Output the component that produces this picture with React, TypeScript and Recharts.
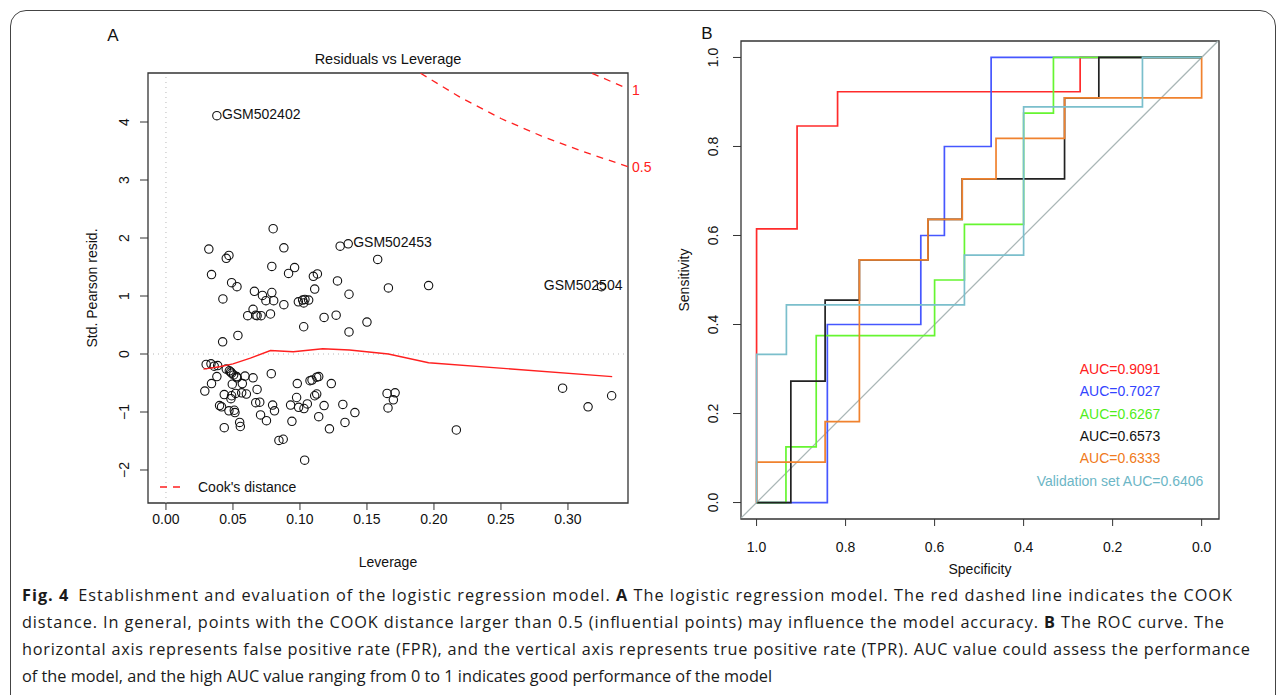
import React from "react";
import {
  ScatterChart,
  Scatter,
  XAxis,
  YAxis,
  ReferenceLine,
  ReferenceArea
} from "recharts";

// ---- Panel A: residuals vs leverage ----
const leverage = [
  0.080, 0.032, 0.088, 0.045, 0.047, 0.079, 0.096, 0.0915, 0.034, 0.110,
  0.113, 0.049, 0.053, 0.128, 0.111, 0.0425, 0.066, 0.072, 0.0746, 0.079,
  0.0804, 0.088, 0.0988, 0.102, 0.1037, 0.1065, 0.1028, 0.065, 0.061, 0.067,
  0.068, 0.071, 0.078, 0.118, 0.127, 0.1028, 0.0537, 0.0423, 0.130, 0.1366,
  0.1366, 0.158, 0.166, 0.196, 0.150,
  0.030, 0.0336, 0.036, 0.0386, 0.045, 0.0473, 0.0483, 0.049, 0.0505, 0.0528,
  0.053, 0.059, 0.065, 0.0786, 0.029, 0.034, 0.038, 0.0495, 0.057, 0.068,
  0.0435, 0.049, 0.052, 0.0565, 0.060, 0.0485, 0.067, 0.070, 0.040, 0.0415,
  0.047, 0.051, 0.0515, 0.055, 0.0555, 0.0435, 0.0706, 0.075, 0.0796, 0.081,
  0.0843, 0.0875, 0.093, 0.094, 0.098, 0.0975, 0.099, 0.103, 0.1055, 0.1035,
  0.1075, 0.109, 0.1125, 0.114, 0.111, 0.1125, 0.114, 0.118, 0.1234, 0.132,
  0.141, 0.1336, 0.122, 0.165, 0.171, 0.1697, 0.1657, 0.2167, 0.296, 0.315,
  0.3326
];
const stdResid = [
  2.16, 1.81, 1.83, 1.65, 1.70, 1.51, 1.49, 1.39, 1.37, 1.34,
  1.38, 1.23, 1.16, 1.26, 1.12, 0.95, 1.08, 1.01, 0.92, 1.06,
  0.92, 0.85, 0.90, 0.93, 0.94, 0.93, 0.88, 0.77, 0.66, 0.67,
  0.66, 0.66, 0.69, 0.63, 0.67, 0.47, 0.32, 0.21, 1.86, 1.03,
  0.38, 1.63, 1.14, 1.18, 0.55,
  -0.18, -0.17, -0.21, -0.20, -0.26, -0.29, -0.31, -0.33, -0.36, -0.39,
  -0.41, -0.38, -0.41, -0.34, -0.64, -0.51, -0.39, -0.52, -0.51, -0.61,
  -0.70, -0.72, -0.68, -0.67, -0.69, -0.77, -0.84, -0.83, -0.89, -0.91,
  -0.98, -0.97, -1.01, -1.18, -1.25, -1.27, -1.05, -1.15, -0.88, -0.98,
  -1.49, -1.47, -0.88, -1.16, -0.51, -0.75, -0.92, -0.94, -0.86, -1.83,
  -0.46, -0.45, -0.40, -0.39, -0.72, -0.69, -1.08, -0.89, -0.51, -0.87,
  -1.01, -1.18, -1.29, -0.68, -0.67, -0.79, -0.93, -1.31, -0.59, -0.91,
  -0.72
];
const idNames = ["GSM502402", "GSM502453", "GSM502504"];
const idLeverage = [0.038, 0.136, 0.325];
const idResid = [4.11, 1.90, 1.16];

const smoothLev = [0.028, 0.04, 0.05, 0.063, 0.078, 0.095, 0.117, 0.137, 0.166, 0.196, 0.333];
const smoothRes = [-0.26, -0.22, -0.17, -0.07, 0.06, 0.04, 0.09, 0.07, 0.0, -0.15, -0.39];

const cookHalfLev = [0.19, 0.22, 0.25, 0.28, 0.31, 0.3448];
const cookHalfRes = [4.84, 4.42, 4.06, 3.76, 3.50, 3.23];
const cookOneLev = [0.318, 0.332, 0.3448];
const cookOneRes = [4.84, 4.70, 4.57];

const levTicks = [0, 0.05, 0.1, 0.15, 0.2, 0.25, 0.3];
const residTicks = [-2, -1, 0, 1, 2, 3, 4];

// ---- Panel B: ROC curves (specificity, sensitivity) ----
const redSpec = [1, 1, 0.909, 0.909, 0.818, 0.818, 0.273, 0.273, 0];
const redSens = [0, 0.615, 0.615, 0.846, 0.846, 0.923, 0.923, 1, 1];
const blueSpec = [1, 0.841, 0.841, 0.631, 0.631, 0.578, 0.578, 0.473, 0.473, 0];
const blueSens = [0, 0, 0.4, 0.4, 0.6, 0.6, 0.8, 0.8, 1, 1];
const greenSpec = [1, 0.934, 0.934, 0.866, 0.866, 0.6, 0.6, 0.533, 0.533, 0.4, 0.4, 0.333, 0.333, 0];
const greenSens = [0, 0, 0.125, 0.125, 0.375, 0.375, 0.5, 0.5, 0.625, 0.625, 0.875, 0.875, 1, 1];
const blackSpec = [1, 0.923, 0.923, 0.846, 0.846, 0.769, 0.769, 0.615, 0.615, 0.538, 0.538, 0.308, 0.308, 0.231, 0.231, 0];
const blackSens = [0, 0, 0.273, 0.273, 0.455, 0.455, 0.545, 0.545, 0.636, 0.636, 0.727, 0.727, 0.909, 0.909, 1, 1];
const orangeSpec = [1, 1, 0.846, 0.846, 0.769, 0.769, 0.615, 0.615, 0.538, 0.538, 0.462, 0.462, 0.308, 0.308, 0, 0];
const orangeSens = [0, 0.091, 0.091, 0.182, 0.182, 0.545, 0.545, 0.636, 0.636, 0.727, 0.727, 0.818, 0.818, 0.909, 0.909, 1];
const cyanSpec = [1, 1, 0.933, 0.933, 0.533, 0.533, 0.4, 0.4, 0.133, 0.133, 0];
const cyanSens = [0, 0.333, 0.333, 0.444, 0.444, 0.556, 0.556, 0.889, 0.889, 1, 1];

const aucLabels = ["AUC=0.9091", "AUC=0.7027", "AUC=0.6267", "AUC=0.6573", "AUC=0.6333", "Validation set AUC=0.6406"];
const rocTicks = [1, 0.8, 0.6, 0.4, 0.2, 0];

const RED = "#ff2b2b";
const BLUE = "#4657ff";
const GREEN = "#66f531";
const BLACK = "#222222";
const ORANGE = "#f0822e";
const CYAN = "#7bbfcc";
const aucColors = ["#ff2020", "#3344ff", "#50ee1a", "#111111", "#f07a20", "#6cb6c6"];

const FONT = "'Liberation Sans', Arial, Helvetica, sans-serif";
const CAPTION_FONT = "'Open Sans', 'Noto Sans', sans-serif";

const zip = (xs: number[], ys: number[]) => xs.map((x, i) => ({ x, y: ys[i] }));

const pointsA = zip(leverage, stdResid);
const idPoints = idNames.map((name, i) => ({ x: idLeverage[i], y: idResid[i], name }));

const fmt = (v: number, d: number) => (v < 0 ? "\u2212" : "") + Math.abs(v).toFixed(d);

const txt = { fontFamily: FONT, fontSize: 14, fill: "#111" } as const;

const Circle = (p: any) => (
  <circle cx={p.cx} cy={p.cy} r={4.2} fill="none" stroke="#111" strokeWidth={1.1} />
);

const IdPoint = (p: any) => {
  const right = p.payload.x > 0.3;
  return (
    <g>
      <circle cx={p.cx} cy={p.cy} r={4.2} fill="none" stroke="#111" strokeWidth={1.1} />
      <text
        x={right ? p.cx + 21 : p.cx + 5}
        y={p.cy - 2}
        textAnchor={right ? "end" : "start"}
        dominantBaseline="central"
        style={txt}
      >
        {p.payload.name}
      </text>
    </g>
  );
};

const Nothing = () => <g />;

function PanelA() {
  const xDom: [number, number] = [-0.0134, 0.3448];
  const yDom: [number, number] = [-2.569, 4.845];
  return (
    <ScatterChart width={660} height={600} margin={{ top: 73, right: 32, bottom: 57, left: 88 }}>
      <XAxis
        type="number"
        dataKey="x"
        domain={xDom}
        allowDataOverflow
        ticks={levTicks}
        interval={0}
        axisLine={false}
        tickSize={7}
        tickLine={{ stroke: "#333" }}
        height={40}
        tick={(p: any) => (
          <text x={p.x} y={519} textAnchor="middle" dominantBaseline="central" style={txt}>
            {fmt(p.payload.value, 2)}
          </text>
        )}
      />
      <YAxis
        type="number"
        dataKey="y"
        domain={yDom}
        allowDataOverflow
        ticks={residTicks}
        interval={0}
        axisLine={false}
        tickSize={8}
        tickLine={{ stroke: "#333" }}
        width={60}
        tick={(p: any) => (
          <text
            x={124}
            y={p.y}
            transform={`rotate(-90 124 ${p.y})`}
            textAnchor="middle"
            dominantBaseline="central"
            style={txt}
          >
            {fmt(p.payload.value, 0)}
          </text>
        )}
      />
      <ReferenceLine y={0} stroke="#b8b8b8" strokeDasharray="1 4" />
      <ReferenceLine x={0} stroke="#b8b8b8" strokeDasharray="1 4" />
      <Scatter data={pointsA} shape={Circle} isAnimationActive={false} />
      <Scatter data={idPoints} shape={IdPoint} isAnimationActive={false} />
      <Scatter
        data={zip(smoothLev, smoothRes)}
        shape={Nothing}
        line={{ stroke: "#ff2020", strokeWidth: 1.4 }}
        isAnimationActive={false}
      />
      <Scatter
        data={zip(cookHalfLev, cookHalfRes)}
        shape={Nothing}
        line={{ stroke: "#ff2020", strokeWidth: 1.3, strokeDasharray: "7 6" }}
        isAnimationActive={false}
      />
      <Scatter
        data={zip(cookOneLev, cookOneRes)}
        shape={Nothing}
        line={{ stroke: "#ff2020", strokeWidth: 1.3, strokeDasharray: "7 6" }}
        isAnimationActive={false}
      />
      <ReferenceArea x1={xDom[0]} x2={xDom[1]} y1={yDom[0]} y2={yDom[1]} fill="none" stroke="#333" strokeWidth={1.3} />
    </ScatterChart>
  );
}

function PanelB() {
  const xDom: [number, number] = [-0.039, 1.035];
  const yDom: [number, number] = [-0.037, 1.037];
  const curves = [
    { spec: redSpec, sens: redSens, color: RED },
    { spec: blueSpec, sens: blueSens, color: BLUE },
    { spec: greenSpec, sens: greenSens, color: GREEN },
    { spec: blackSpec, sens: blackSens, color: BLACK },
    { spec: orangeSpec, sens: orangeSens, color: ORANGE },
    { spec: cyanSpec, sens: cyanSens, color: CYAN }
  ];
  return (
    <ScatterChart width={620} height={600} margin={{ top: 41, right: 41, bottom: 41, left: 41 }}>
      <XAxis
        type="number"
        dataKey="x"
        domain={xDom}
        reversed
        allowDataOverflow
        ticks={rocTicks}
        interval={0}
        axisLine={false}
        tickSize={7}
        tickLine={{ stroke: "#333" }}
        height={40}
        tick={(p: any) => (
          <text x={p.x} y={547} textAnchor="middle" dominantBaseline="central" style={txt}>
            {fmt(p.payload.value, 1)}
          </text>
        )}
      />
      <YAxis
        type="number"
        dataKey="y"
        domain={yDom}
        allowDataOverflow
        ticks={rocTicks}
        interval={0}
        axisLine={false}
        tickSize={8}
        tickLine={{ stroke: "#333" }}
        width={60}
        tick={(p: any) => (
          <text
            x={73}
            y={p.y}
            transform={`rotate(-90 73 ${p.y})`}
            textAnchor="middle"
            dominantBaseline="central"
            style={txt}
          >
            {fmt(p.payload.value, 1)}
          </text>
        )}
      />
      <ReferenceLine
        segment={[{ x: 1.035, y: -0.035 }, { x: -0.037, y: 1.037 }]}
        stroke="#a9b6b6"
        strokeWidth={1.3}
      />
      {curves.map((c, i) => (
        <Scatter
          key={i}
          data={zip(c.spec, c.sens)}
          shape={Nothing}
          line={{ stroke: c.color, strokeWidth: 1.7 }}
          isAnimationActive={false}
        />
      ))}
      <ReferenceArea x1={xDom[0]} x2={xDom[1]} y1={yDom[0]} y2={yDom[1]} fill="none" stroke="#333" strokeWidth={1.3} />
    </ScatterChart>
  );
}

export default function App() {
  const capBase = [601, 628, 655, 682];
  return (
    <div style={{ position: "absolute", left: 0, top: 0, width: 1285, height: 695, background: "#fff", overflow: "hidden" }}>
      <div
        style={{
          position: "absolute",
          left: 10,
          top: 10,
          width: 1266,
          height: 720,
          border: "1.3px solid #444",
          borderRadius: 16,
          boxSizing: "border-box"
        }}
      />
      <div style={{ position: "absolute", left: 0, top: 0 }}>
        <PanelA />
      </div>
      <div style={{ position: "absolute", left: 640, top: 0 }}>
        <PanelB />
      </div>
      <svg width={1285} height={695} style={{ position: "absolute", left: 0, top: 0, pointerEvents: "none" }}>
        {/* panel A annotations */}
        <text x={113} y={35} textAnchor="middle" dominantBaseline="central" style={{ ...txt, fontSize: 17 }}>A</text>
        <text x={388} y={59} textAnchor="middle" dominantBaseline="central" style={{ ...txt, fontSize: 14.5 }}>
          Residuals vs Leverage
        </text>
        <text x={388} y={562} textAnchor="middle" dominantBaseline="central" style={txt}>Leverage</text>
        <text
          x={92}
          y={288}
          transform="rotate(-90 92 288)"
          textAnchor="middle"
          dominantBaseline="central"
          style={txt}
        >
          Std. Pearson resid.
        </text>
        <line x1={160} x2={182} y1={487} y2={487} stroke="#ff2020" strokeWidth={1.3} strokeDasharray="7 6" />
        <text x={198} y={487} dominantBaseline="central" style={txt}>Cook's distance</text>
        <text x={636} y={90} textAnchor="middle" dominantBaseline="central" style={{ ...txt, fill: "#ff2020" }}>1</text>
        <text x={632} y={167} dominantBaseline="central" style={{ ...txt, fill: "#ff2020" }}>0.5</text>

        {/* panel B annotations */}
        <text x={707} y={33} textAnchor="middle" dominantBaseline="central" style={{ ...txt, fontSize: 17 }}>B</text>
        <text x={980} y={569} textAnchor="middle" dominantBaseline="central" style={txt}>Specificity</text>
        <text
          x={684}
          y={280}
          transform="rotate(-90 684 280)"
          textAnchor="middle"
          dominantBaseline="central"
          style={txt}
        >
          Sensitivity
        </text>
        {aucLabels.map((t, i) => (
          <text
            key={t}
            x={1120}
            y={369 + i * 22.3}
            textAnchor="middle"
            dominantBaseline="central"
            style={{ ...txt, fill: aucColors[i] }}
          >
            {t}
          </text>
        ))}

        {/* caption */}
        <g style={{ fontFamily: CAPTION_FONT, fontSize: 16.3, fill: "#1a1a1a" }}>
          <text x={22} y={capBase[0]} textLength={1210} lengthAdjust="spacing">
            <tspan fontWeight="bold">Fig. 4</tspan>
            <tspan dx={9}>{"Establishment and evaluation of the logistic regression model. "}</tspan>
            <tspan fontWeight="bold">A</tspan>
            <tspan>{" The logistic regression model. The red dashed line indicates the COOK"}</tspan>
          </text>
          <text x={22} y={capBase[1]} textLength={1202} lengthAdjust="spacing">
            <tspan>{"distance. In general, points with the COOK distance larger than 0.5 (influential points) may influence the model accuracy. "}</tspan>
            <tspan fontWeight="bold">B</tspan>
            <tspan>{" The ROC curve. The"}</tspan>
          </text>
          <text x={22} y={capBase[2]} textLength={1228} lengthAdjust="spacing">
            horizontal axis represents false positive rate (FPR), and the vertical axis represents true positive rate (TPR). AUC value could assess the performance
          </text>
          <text x={22} y={capBase[3]}>
            of the model, and the high AUC value ranging from 0 to 1 indicates good performance of the model
          </text>
        </g>
      </svg>
    </div>
  );
}
